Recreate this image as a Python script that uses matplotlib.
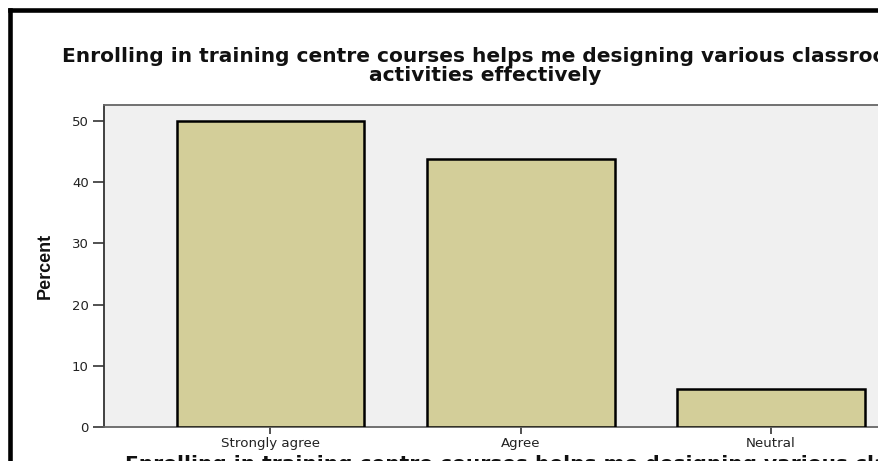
import matplotlib
matplotlib.use("Agg")
import matplotlib.pyplot as plt
from matplotlib.lines import Line2D
from matplotlib import font_manager

categories = ["Strongly agree", "Agree", "Neutral"]
percent = [50.0, 43.75, 6.25]
yticks = [0, 10, 20, 30, 40, 50]
title = ("Enrolling in training centre courses helps me designing various classroom\n"
         "activities effectively")
xlabel = "Enrolling in training centre courses helps me designing various classroom"

W, H = 879, 461
fig = plt.figure(figsize=(W / 100, H / 100), dpi=100)
fig.patch.set_facecolor("white")

def fx(px):
    return px / W

def fy(py):
    return 1 - py / H

# axes rectangle (plot area extends beyond right edge of the image)
left, right, top, bottom = 104, 937.5, 105, 427
ax = fig.add_axes([fx(left), fy(bottom), fx(right - left), (bottom - top) / H])
ax.set_facecolor("#f0f0f0")

x = list(range(len(categories)))
ax.bar(x, percent, width=0.75, color="#d3ce99", edgecolor="black", linewidth=1.8, zorder=3)
ax.set_xlim(-0.665, 2.665)
ax.set_ylim(0, 52.6)
ax.set_yticks(yticks)
ax.set_yticklabels([str(v) for v in yticks], fontsize=9.5, family="DejaVu Sans", color="#222222")
ax.set_xticks(x)
ax.set_xticklabels(categories, fontsize=9.6, family="DejaVu Sans", color="#222222")
ax.tick_params(axis="y", length=8, width=1.2, color="#333333", pad=3)
ax.tick_params(axis="x", length=5, width=1.2, color="#333333", pad=2.5)
for side in ["left"]:
    ax.spines[side].set_color("#333333")
    ax.spines[side].set_linewidth(1.3)
for side in ["top", "bottom"]:
    ax.spines[side].set_color("#666666")
    ax.spines[side].set_linewidth(1.3)
ax.spines["right"].set_visible(False)

names = {f.name for f in font_manager.fontManager.ttflist}
narrow = "Liberation Sans Narrow" if "Liberation Sans Narrow" in names else "Liberation Sans"
fig.text(fx(45), fy(266), "Percent", rotation=90, ha="center", va="center",
         fontsize=13, fontweight="bold", family=narrow, color="#111111")

fig.text(fx(485), fy(66), title, ha="center", va="center", fontsize=14.5,
         fontweight="bold", family="DejaVu Sans", linespacing=0.95, color="#111111")

fig.text(fx(125), fy(455), xlabel, ha="left", va="top", fontsize=14.5,
         fontweight="bold", family="DejaVu Sans", color="#111111")

# outer black frame (left and top edges visible)
fig.add_artist(Line2D([fx(9.7), fx(9.7)], [0, fy(9.7)], transform=fig.transFigure,
                      color="black", linewidth=3.3, solid_capstyle="projecting"))
fig.add_artist(Line2D([fx(9.7), 1.05], [fy(9.7), fy(9.7)], transform=fig.transFigure,
                      color="black", linewidth=3.3, solid_capstyle="projecting"))

fig.savefig("out.png", dpi=100)
